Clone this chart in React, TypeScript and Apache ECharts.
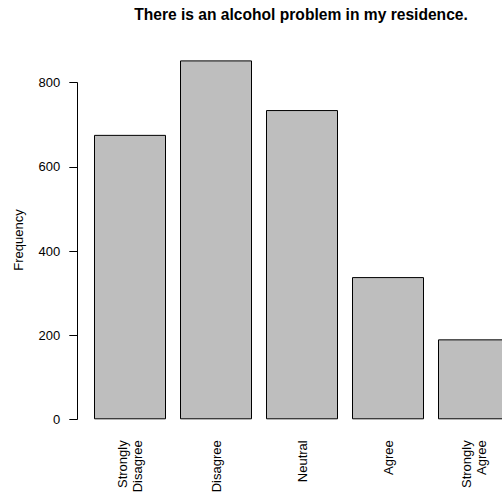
import React, { useEffect, useRef } from "react";
import * as echarts from "echarts";

const categories = ["Strongly\nDisagree", "Disagree", "Neutral", "Agree", "Strongly\nAgree"];
const frequencies = [676, 853, 735, 338, 190];
const yTicks = { min: 0, max: 800, interval: 200 };
const titleText = "There is an alcohol problem in my residence.";
const yLabel = "Frequency";

export default function App() {
  const ref = useRef<HTMLDivElement>(null);
  useEffect(() => {
    if (!ref.current) return;
    const chart = echarts.init(ref.current, null, { renderer: "svg" });
    const font = "Liberation Sans, Arial, Helvetica, sans-serif";
    chart.setOption({
      animation: false,
      backgroundColor: "#ffffff",
      title: {
        text: titleText,
        left: 301,
        top: 6,
        padding: 0,
        textAlign: "center",
        textStyle: { fontFamily: font, fontSize: 15.6, fontWeight: "bold", color: "#000" },
      },
      graphic: [
        {
          type: "text",
          x: 18,
          y: 240,
          rotation: Math.PI / 2,
          style: {
            text: yLabel,
            fontFamily: font,
            fontSize: 13,
            fill: "#000",
            align: "center",
            verticalAlign: "middle",
          },
        },
      ],
      grid: {
        left: 87,
        width: 430,
        top: 82.7,
        height: 336.6,
        containLabel: false,
        outerBoundsMode: "none",
      },
      xAxis: {
        type: "category",
        data: categories,
        boundaryGap: true,
        axisLine: { show: false },
        axisTick: { show: false },
        axisLabel: {
          rotate: 90,
          margin: 21,
          interval: 0,
          fontFamily: font,
          fontSize: 13,
          lineHeight: 14.5,
          color: "#000",
        },
      },
      yAxis: {
        type: "value",
        min: yTicks.min,
        max: yTicks.max,
        interval: yTicks.interval,
        offset: 9.7,
        splitLine: { show: false },
        axisLine: { show: true, lineStyle: { color: "#000", width: 1 } },
        axisTick: { show: true, length: 8, lineStyle: { color: "#000", width: 1 } },
        axisLabel: { margin: 17, fontFamily: font, fontSize: 13, color: "#000" },
      },
      series: [
        {
          type: "bar",
          data: frequencies,
          barWidth: 72,
          clip: false,
          itemStyle: { color: "#bebebe", borderColor: "#000", borderWidth: 1 },
        },
      ],
    });
    return () => chart.dispose();
  }, []);
  return (
    <div
      ref={ref}
      style={{ position: "fixed", left: 0, top: 0, width: 502, height: 497 }}
    />
  );
}
